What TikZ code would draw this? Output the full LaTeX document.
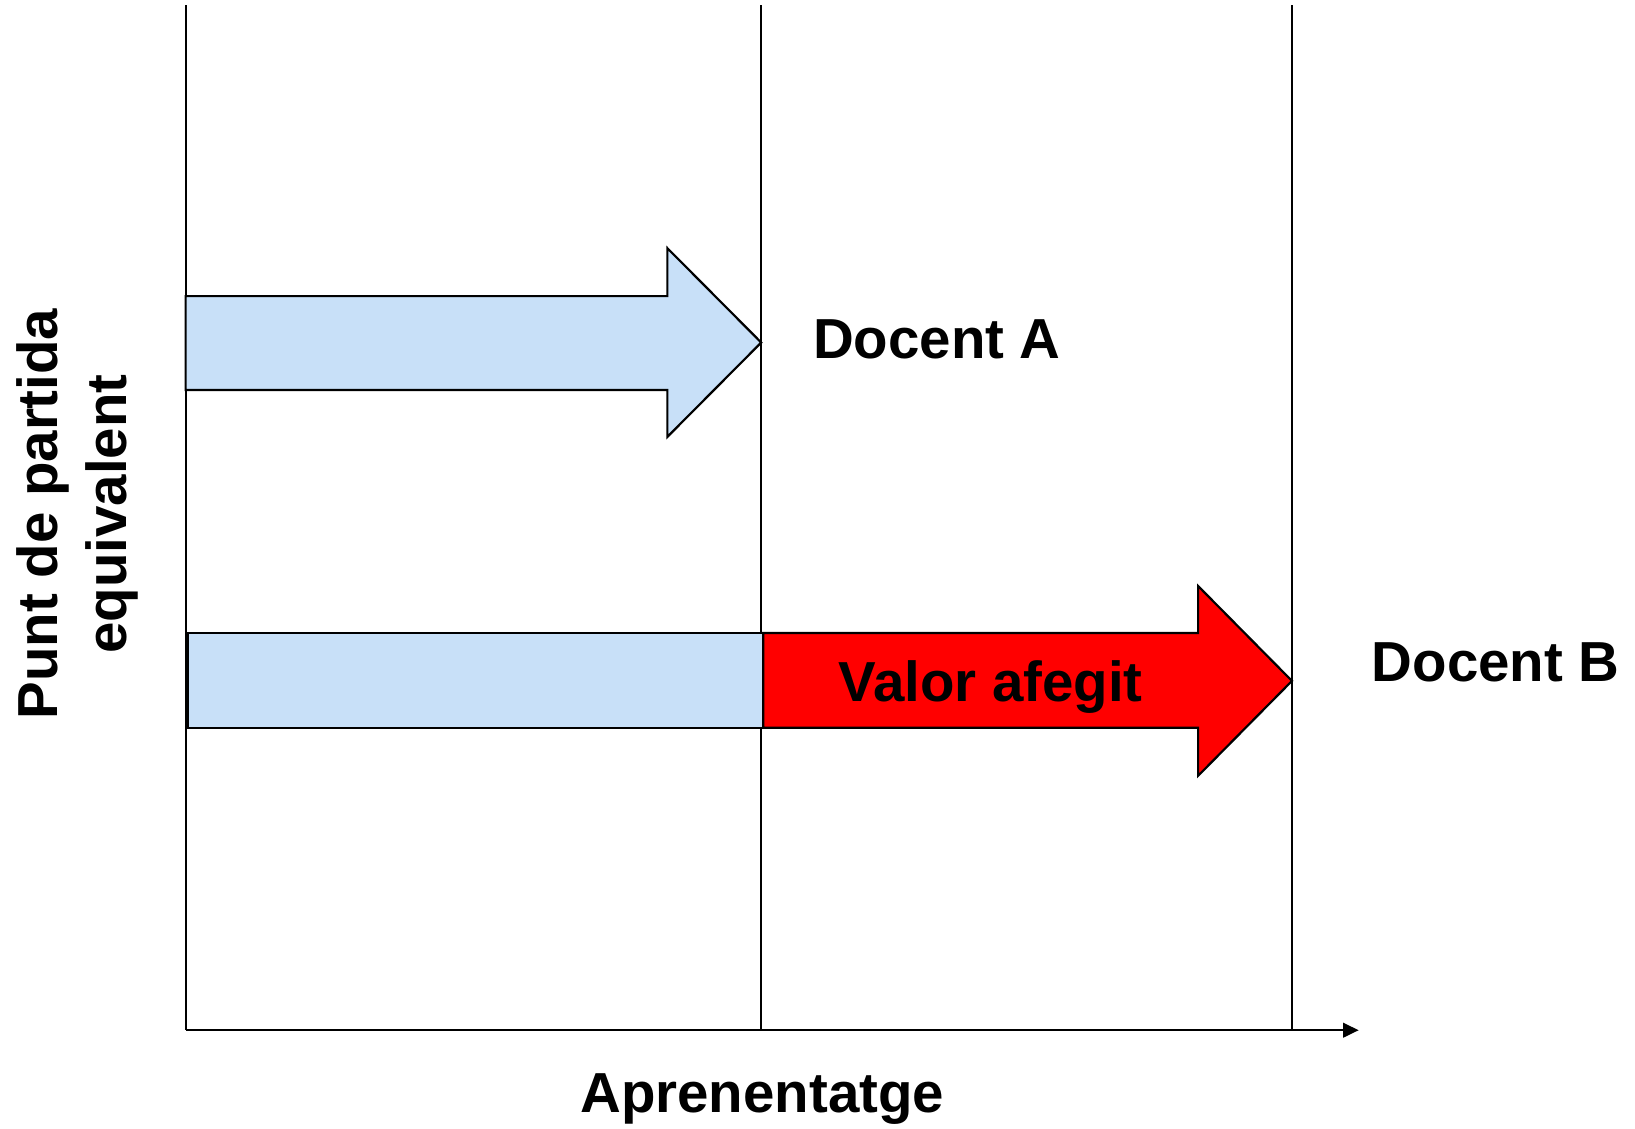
\documentclass[tikz,border=0pt]{standalone}
\usepackage{fontspec}
\setmainfont{Liberation Sans}
\usetikzlibrary{arrows.meta}

\begin{document}
\begin{tikzpicture}[x=1cm,y=1cm,
    lbl/.style={font=\bfseries\fontsize{15.4}{18.7}\selectfont, inner sep=0pt},
    outline/.style={draw=black, line width=0.6pt}]
        % Define colors
        \definecolor{startblue}{RGB}{200, 224, 248}
        \definecolor{addred}{RGB}{255, 0, 0}

        \useasboundingbox (0,0) rectangle (15.68,10.82);

        % --- Axis and guide lines ---
        \coordinate (origin) at (1.78,0.94);
        \coordinate (xend) at (13.03,0.94);
        \coordinate (topL) at (1.78,10.77);
        \coordinate (topA) at (7.30,10.77);
        \coordinate (topB) at (12.39,10.77);
        \draw[outline] (topL) -- (origin);
        \draw[outline] (topA) -- (topA |- origin);
        \draw[outline] (topB) -- (topB |- origin);
        \draw[outline, -{Triangle[length=0.15cm,width=0.14cm]}] (origin) -- (xend);

        % --- ROW A (Docent A) ---
        \filldraw[outline, fill=startblue] (1.78,7.98) -- (6.40,7.98) -- (6.40,8.44)
            -- (7.30,7.535) -- (6.40,6.63) -- (6.40,7.08) -- (1.78,7.08) -- cycle;
        \node[lbl, anchor=base west] (docentA) at (7.79,7.38) {Docent A};

        % --- ROW B (Docent B) ---
        \filldraw[outline, fill=startblue] (1.80,3.84) rectangle (7.32,4.75);
        \filldraw[outline, fill=addred] (7.32,4.75) -- (11.49,4.75) -- (11.49,5.20)
            -- (12.39,4.29) -- (11.49,3.38) -- (11.49,3.84) -- (7.32,3.84) -- cycle;
        \node[lbl, anchor=base] (valor) at (9.50,4.09) {Valor afegit};
        \node[lbl, anchor=base west] (docentB) at (13.15,4.28) {Docent B};

        % Axis labels
        \node[lbl, anchor=base] (xlabel) at (7.31,0.15) {Aprenentatge};
        \node[lbl, align=center, rotate=90] (ylabel) at (0.74,5.89) {Punt de partida\\equivalent};

    \end{tikzpicture}
\end{document}
